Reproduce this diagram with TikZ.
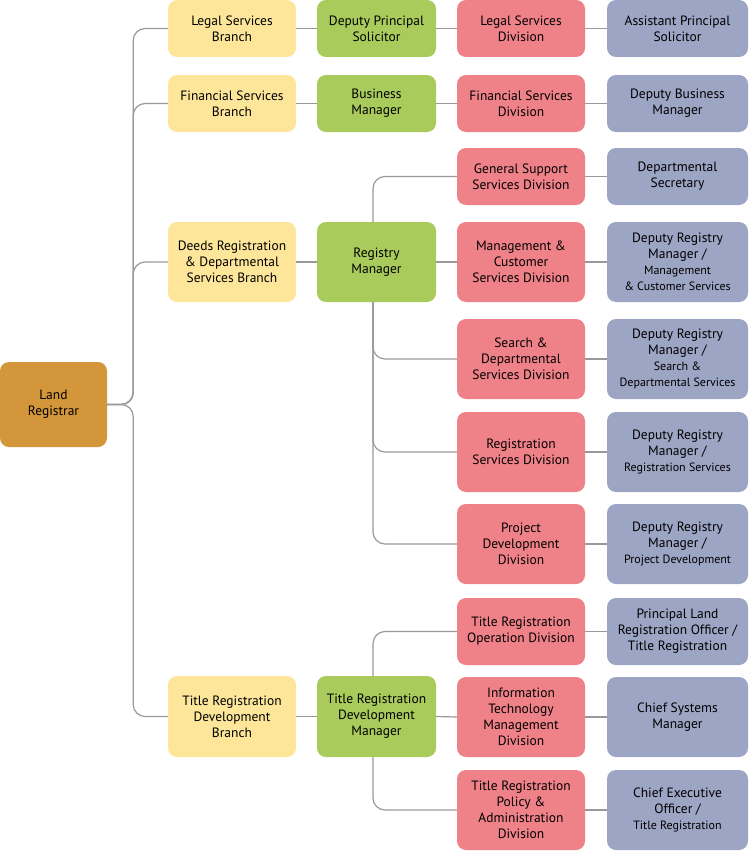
\documentclass[tikz,border=0pt]{standalone}
\usepackage{fontspec}
\setmainfont{PT Sans}
\newcommand\smf{\fontsize{12}{13.5}\selectfont}
\begin{document}
\begin{tikzpicture}[x=1pt,y=-1pt,
 box/.style={draw=none,rounded corners=9pt,align=center,inner sep=1pt,font=\fontsize{13.5}{16}\selectfont},
 conn/.style={draw=black!40,line width=1.2pt,rounded corners=12pt}]
\definecolor{cOr}{HTML}{D4963A}
\definecolor{cYe}{HTML}{FDE69A}
\definecolor{cGr}{HTML}{A9CB5B}
\definecolor{cRe}{HTML}{EF8189}
\definecolor{cBl}{HTML}{9CA5C3}
\useasboundingbox (0,0) rectangle (750,851);
\newcommand\bx[7]{\node[box,fill=#1,minimum width=#2pt,minimum height=#5pt] (#6) at (#3,#4) {#7};}
\def\cY{232}\def\cG{376.5}\def\cR{521}\def\cB{677.5}
\bx{cOr}{107}{53.5}{404.5}{85}{lr}{Land\\Registrar}
\bx{cYe}{128}{\cY}{28.5}{57}{y1}{Legal Services\\Branch}
\bx{cYe}{128}{\cY}{103.5}{57}{y2}{Financial Services\\Branch}
\bx{cYe}{128}{\cY}{262}{80}{y3}{Deeds Registration\\\& Departmental\\Services Branch}
\bx{cYe}{128}{\cY}{716.5}{81}{y4}{Title Registration\\Development\\Branch}
\bx{cGr}{119}{\cG}{28.5}{57}{g1}{Deputy Principal\\Solicitor}
\bx{cGr}{119}{\cG}{103.5}{57}{g2}{Business\\Manager}
\bx{cGr}{119}{\cG}{262}{80}{g3}{Registry\\Manager}
\bx{cGr}{119}{\cG}{716.5}{81}{g4}{Title Registration\\Development\\Manager}
\bx{cRe}{128}{\cR}{28.5}{57}{r1}{Legal Services\\Division}
\bx{cRe}{128}{\cR}{103.5}{57}{r2}{Financial Services\\Division}
\bx{cRe}{128}{\cR}{176.5}{57}{r3}{General Support\\Services Division}
\bx{cRe}{128}{\cR}{262}{80}{r4}{Management \&\\Customer\\Services Division}
\bx{cRe}{128}{\cR}{359}{80}{r5}{Search \&\\Departmental\\Services Division}
\bx{cRe}{128}{\cR}{452}{80}{r6}{Registration\\Services Division}
\bx{cRe}{128}{\cR}{544}{80}{r7}{Project\\Development\\Division}
\bx{cRe}{128}{\cR}{631.5}{67}{r8}{Title Registration\\Operation Division}
\bx{cRe}{128}{\cR}{717}{80}{r9}{Information\\Technology\\Management\\Division}
\bx{cRe}{128}{\cR}{810}{80}{r10}{Title Registration\\Policy \&\\Administration\\Division}
\bx{cBl}{141}{\cB}{28.5}{57}{b1}{Assistant Principal\\Solicitor}
\bx{cBl}{141}{\cB}{103.5}{57}{b2}{Deputy Business\\Manager}
\bx{cBl}{141}{\cB}{176.5}{57}{b3}{Departmental\\Secretary}
\bx{cBl}{141}{\cB}{262}{80}{b4}{Deputy Registry\\Manager /\\{\smf Management}\\{\smf \& Customer Services}}
\bx{cBl}{141}{\cB}{359}{80}{b5}{Deputy Registry\\Manager /\\{\smf Search \&}\\{\smf Departmental Services}}
\bx{cBl}{141}{\cB}{452}{80}{b6}{Deputy Registry\\Manager /\\{\smf Registration Services}}
\bx{cBl}{141}{\cB}{544}{80}{b7}{Deputy Registry\\Manager /\\{\smf Project Development}}
\bx{cBl}{141}{\cB}{631.5}{67}{b8}{Principal Land\\Registration Officer /\\Title Registration}
\bx{cBl}{141}{\cB}{717}{80}{b9}{Chief Systems\\Manager}
\bx{cBl}{141}{\cB}{810}{80}{b10}{Chief Executive\\Officer /\\{\smf Title Registration}}
\foreach \t in {y1,y2,y3,y4}{\draw[conn] (lr.east) -- ++(26,0) |- (\t.west);}
\foreach \a/\b in {y1/g1,y2/g2,y3/g3,y4/g4,g1/r1,g2/r2,g3/r4,g4/r9}{\draw[conn] (\a.east) -- (\b.west);}
\foreach \n in {1,...,10}{\draw[conn] (r\n.east) -- (b\n.west);}
\coordinate (t3) at (373,222);\coordinate (s3) at (373,302);
\coordinate (t4) at (373,676);\coordinate (s4) at (373,757);
\draw[conn] (t3) |- (r3.west);
\foreach \r in {r5,r6,r7}{\draw[conn] (s3) |- (\r.west);}
\draw[conn] (t4) |- (r8.west);
\draw[conn] (s4) |- (r10.west);
\end{tikzpicture}
\end{document}
